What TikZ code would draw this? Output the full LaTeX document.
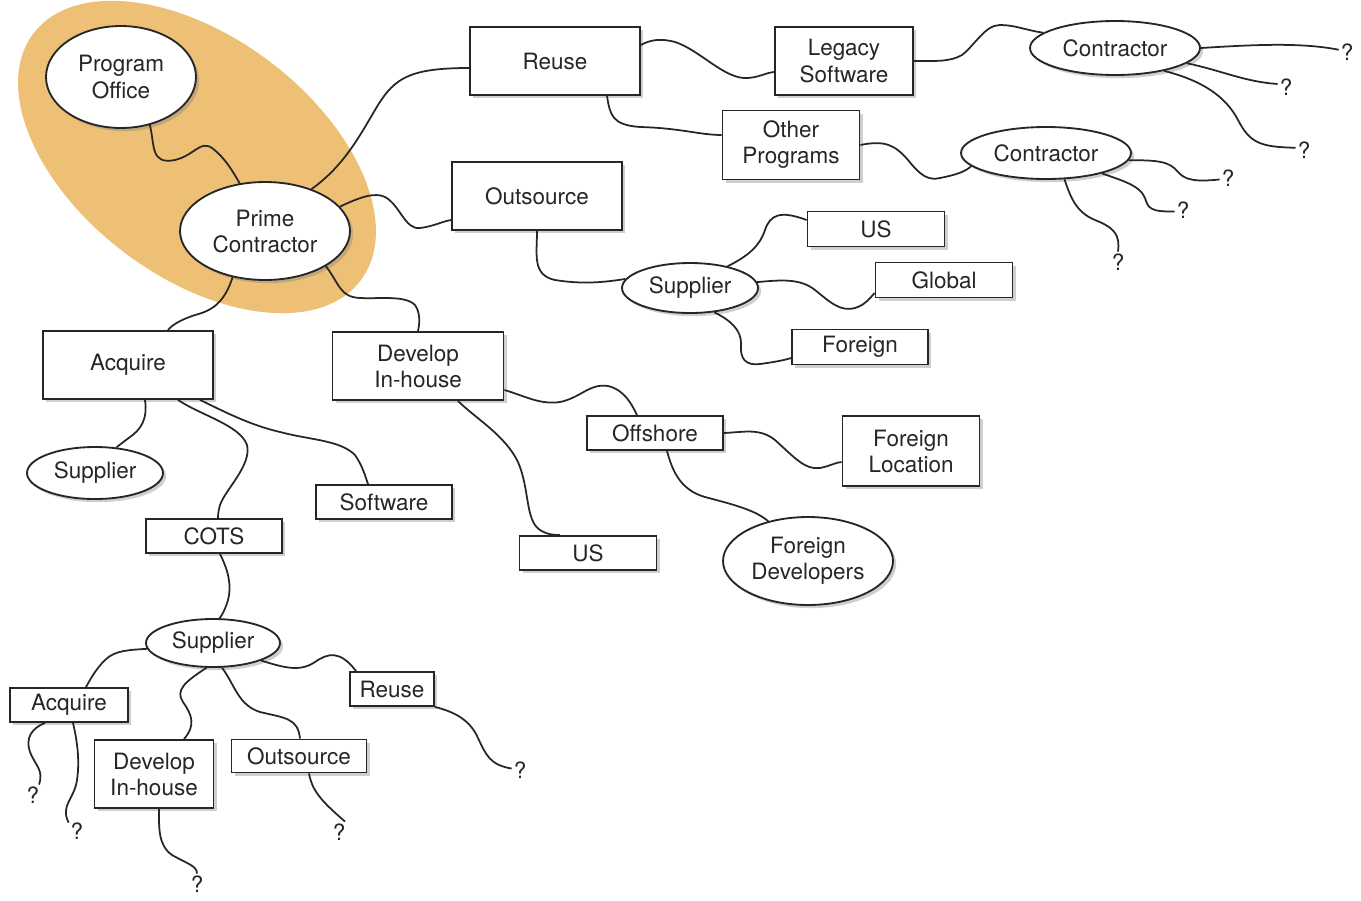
\documentclass[tikz,border=0pt]{standalone}
\usepackage{fontspec}
\setmainfont{TeX Gyre Heros}
\usetikzlibrary{shapes.geometric,shadows,calc}
\definecolor{halo}{RGB}{237,192,118}
\definecolor{ink}{RGB}{38,38,38}
\begin{document}
\begin{tikzpicture}[x=0.02cm,y=-0.02cm,
  every node/.style={font=\fontsize{12.8}{14.8}\selectfont, text=ink},
  shad/.style={drop shadow={shadow xshift=1.8pt, shadow yshift=-1.8pt, opacity=0.38}},
  box/.style={rectangle, draw=ink, line width=1.05pt, fill=white, inner sep=0pt, align=center, shad},
  ell/.style={ellipse, draw=ink, line width=1.05pt, fill=white, inner sep=0pt, align=center, shad},
  link/.style={draw=ink, line width=1pt},
  qm/.style={inner sep=1pt}
]
\useasboundingbox (0,0) rectangle (1361,900);
\node[ellipse, fill=halo, minimum width=8.2cm, minimum height=4.8cm, rotate=-37, inner sep=0pt] (halo) at (197,157) {};

% nodes
\node[ell, minimum width=3.0cm, minimum height=2.04cm] (po) at (121,77) {Program\\Office};
\node[ell, minimum width=3.4cm, minimum height=1.96cm] (pc) at (265,231) {Prime\\Contractor};
\node[box, minimum width=3.4cm, minimum height=1.36cm] (reuse) at (555,61) {Reuse};
\node[box, minimum width=2.76cm, minimum height=1.36cm] (legacy) at (844,61) {Legacy\\Software};
\node[ell, minimum width=3.4cm, minimum height=1.08cm] (con1) at (1115,48) {Contractor};
\node[box, minimum width=2.74cm, minimum height=1.38cm] (other) at (791,145) {Other\\Programs};
\node[ell, minimum width=3.4cm, minimum height=1.04cm] (con2) at (1046,153) {Contractor};
\node[box, minimum width=3.4cm, minimum height=1.36cm] (out) at (537,196) {Outsource};
\node[ell, minimum width=2.72cm, minimum height=1.0cm] (sup1) at (690,288) {Supplier};
\node[box, minimum width=2.74cm, minimum height=0.7cm] (us1) at (876,229) {US};
\node[box, minimum width=2.74cm, minimum height=0.7cm] (glob) at (944,280) {Global};
\node[box, minimum width=2.72cm, minimum height=0.7cm] (for1) at (860,347) {Foreign};
\node[box, minimum width=3.4cm, minimum height=1.36cm] (acq) at (128,365) {Acquire};
\node[box, minimum width=3.42cm, minimum height=1.36cm] (dev) at (418,366) {Develop\\In-house};
\node[box, minimum width=2.72cm, minimum height=0.68cm] (off) at (655,433) {Offshore};
\node[box, minimum width=2.74cm, minimum height=1.4cm] (floc) at (911,451) {Foreign\\Location};
\node[ell, minimum width=2.72cm, minimum height=1.04cm] (sup2) at (95,473) {Supplier};
\node[box, minimum width=2.72cm, minimum height=0.68cm] (soft) at (384,502) {Software};
\node[box, minimum width=2.72cm, minimum height=0.68cm] (cots) at (214,536) {COTS};
\node[box, minimum width=2.74cm, minimum height=0.68cm] (us2) at (588,553) {US};
\node[ell, minimum width=3.4cm, minimum height=1.76cm] (fdev) at (808,561) {Foreign\\Developers};
\node[ell, minimum width=2.68cm, minimum height=0.96cm] (sup3) at (213,643) {Supplier};
\node[box, minimum width=2.36cm, minimum height=0.68cm] (acq2) at (69,705) {Acquire};
\node[box, minimum width=1.68cm, minimum height=0.68cm] (reuse2) at (392,689) {Reuse};
\node[box, minimum width=2.38cm, minimum height=1.36cm] (dev2) at (154,774) {Develop\\In-house};
\node[box, minimum width=2.7cm, minimum height=0.66cm] (out2) at (299,756) {Outsource};

% question marks
\node[qm] (qa) at (1347,52) {?};
\node[qm] (qb) at (1286,87) {?};
\node[qm] (qc) at (1304,150) {?};
\node[qm] (qd) at (1228,178) {?};
\node[qm] (qe) at (1183,210) {?};
\node[qm] (qf) at (1118,262) {?};
\node[qm] (qg) at (520,770) {?};
\node[qm] (qh) at (33,795) {?};
\node[qm] (qi) at (77,831) {?};
\node[qm] (qj) at (197,884) {?};
\node[qm] (qk) at (339,832) {?};

% connectors
\draw[link] (po.-59) .. controls (155,145) and (150,165) .. (175,160) .. controls (195,155) and (200,140) .. (212,148) .. controls (225,158) and (232,170) .. (pc.118);
\draw[link] (pc.42) .. controls (345,165) and (360,135) .. (378,105) .. controls (395,78) and (410,68) .. ($(reuse.west)+(0,7)$);
\draw[link] (pc.18) .. controls (360,197) and (375,192) .. (385,197) .. controls (400,205) and (405,230) .. (420,228) .. controls (435,226) and (440,222) .. ($(out.west)+(0,24)$);
\draw[link] (pc.-30) .. controls (340,285) and (340,297) .. (360,298) .. controls (380,299) and (405,295) .. (415,305) .. controls (420,312) and (420,322) .. (dev.north);
\draw[link] (pc.-125) .. controls (225,300) and (215,310) .. (195,315) .. controls (180,320) and (172,325) .. ($(acq.north)+(40,0)$);
\draw[link] ($(reuse.east)+(0,-16)$) .. controls (650,40) and (660,38) .. (675,42) .. controls (700,50) and (725,80) .. (748,78) .. controls (760,77) and (765,73) .. ($(legacy.west)+(0,11)$);
\draw[link] ($(reuse.south)+(52,0)$) .. controls (610,115) and (612,125) .. (640,127) .. controls (680,128) and (700,135) .. ($(other.west)+(0,-10)$);
\draw[link] (legacy.east) .. controls (935,61) and (950,62) .. (962,55) .. controls (975,45) and (985,25) .. (1000,25) .. controls (1015,25) and (1025,30) .. (con1.168);
\draw[link] (con1.east) .. controls (1250,45) and (1300,42) .. (qa.165);
\draw[link] (con1.-12) .. controls (1220,70) and (1245,82) .. (qb.160);
\draw[link] (con1.-25) .. controls (1200,80) and (1225,95) .. (1238,120) .. controls (1250,143) and (1260,147) .. (qc.165);
\draw[link] (other.east) .. controls (885,140) and (895,145) .. (908,160) .. controls (920,175) and (928,181) .. (940,178) .. controls (955,175) and (965,172) .. (con2.190);
\draw[link] (con2.-5) .. controls (1160,160) and (1170,162) .. (1178,172) .. controls (1185,180) and (1195,182) .. (qd.190);
\draw[link] (con2.-20) .. controls (1120,180) and (1140,185) .. (1145,198) .. controls (1148,208) and (1150,212) .. (qe.190);
\draw[link] (con2.-55) .. controls (1070,195) and (1075,212) .. (1095,220) .. controls (1115,228) and (1120,235) .. (qf.north);
\draw[link] (out.south) .. controls (537,255) and (532,275) .. (555,280) .. controls (580,284) and (600,283) .. (sup1.172);
\draw[link] (sup1.30) .. controls (750,255) and (760,245) .. (765,230) .. controls (770,215) and (780,210) .. ($(us1.west)+(0,-9)$);
\draw[link] (sup1.5) .. controls (780,280) and (800,278) .. (815,290) .. controls (830,302) and (840,312) .. (855,308) .. controls (865,305) and (870,298) .. ($(glob.west)+(0,13)$);
\draw[link] (sup1.-45) .. controls (730,320) and (742,330) .. (741,345) .. controls (740,358) and (745,366) .. (760,364) .. controls (775,362) and (785,360) .. ($(for1.west)+(0,11)$);
\draw[link] ($(dev.east)+(0,24)$) .. controls (525,396) and (540,405) .. (560,402) .. controls (580,398) and (590,383) .. (608,386) .. controls (625,390) and (632,405) .. ($(off.north)+(-18,0)$);
\draw[link] ($(dev.south)+(40,0)$) .. controls (475,418) and (505,435) .. (518,462) .. controls (530,490) and (525,520) .. (540,530) .. controls (548,535) and (555,535) .. ($(us2.north)+(-28,0)$);
\draw[link] (off.east) .. controls (745,432) and (760,428) .. (775,440) .. controls (795,458) and (805,470) .. (820,468) .. controls (830,466) and (837,462) .. ($(floc.west)+(0,11)$);
\draw[link] ($(off.south)+(12,0)$) .. controls (672,470) and (680,490) .. (705,497) .. controls (735,505) and (755,510) .. (fdev.135);
\draw[link] ($(acq.south)+(17,0)$) .. controls (148,420) and (140,430) .. (130,437) .. controls (122,443) and (118,446) .. (sup2.50);
\draw[link] ($(acq.south)+(50,0)$) .. controls (200,415) and (240,425) .. (247,445) .. controls (252,465) and (225,490) .. (220,505) .. controls (218,512) and (218,516) .. ($(cots.north)+(4,0)$);
\draw[link] ($(acq.south)+(72,0)$) .. controls (225,412) and (250,425) .. (280,432) .. controls (310,440) and (340,440) .. (355,455) .. controls (362,465) and (365,475) .. ($(soft.north)+(-16,0)$);
\draw[link] ($(cots.south)+(6,0)$) .. controls (228,570) and (232,585) .. (228,600) .. controls (225,610) and (222,615) .. (sup3.75);
\draw[link] (sup3.185) .. controls (130,650) and (115,650) .. (105,660) .. controls (95,670) and (90,680) .. ($(acq2.north)+(17,0)$);
\draw[link] (sup3.-105) .. controls (185,682) and (175,690) .. (183,702) .. controls (192,715) and (196,725) .. ($(dev2.north)+(30,0)$);
\draw[link] (sup3.-70) .. controls (235,685) and (238,705) .. (260,712) .. controls (285,718) and (298,718) .. ($(out2.north)+(1,0)$);
\draw[link] (sup3.-20) .. controls (285,668) and (300,672) .. (315,662) .. controls (328,653) and (340,650) .. ($(reuse2.north west)+(7,0)$);
\draw[link] (reuse2.south east) .. controls (455,712) and (470,720) .. (478,738) .. controls (486,755) and (490,765) .. (qg.170);
\draw[link] ($(acq2.south)+(-24,0)$) .. controls (32,728) and (25,738) .. (30,752) .. controls (35,765) and (44,770) .. (qh.60);
\draw[link] ($(acq2.south)+(4,0)$) .. controls (77,740) and (80,760) .. (77,780) .. controls (74,800) and (60,805) .. (qi.135);
\draw[link] ($(dev2.south)+(5,0)$) .. controls (159,828) and (158,845) .. (172,855) .. controls (188,864) and (197,866) .. (qj.north);
\draw[link] ($(out2.south)+(10,0)$) .. controls (312,790) and (320,800) .. (qk.60);
\end{tikzpicture}
\end{document}
